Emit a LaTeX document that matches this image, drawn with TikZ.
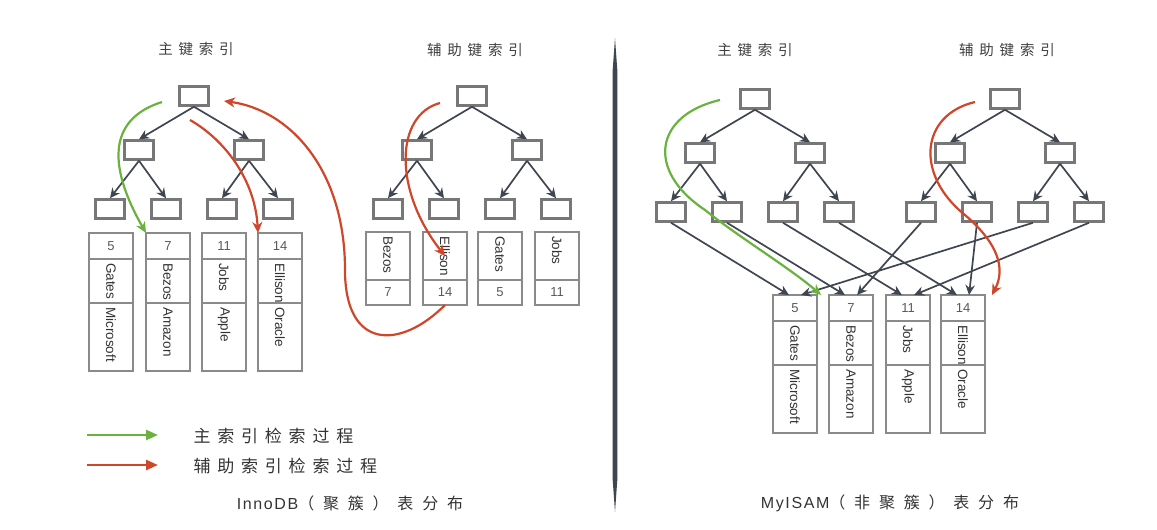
\documentclass[tikz,border=0pt]{standalone}
\usepackage{fontspec}
\setmainfont{Liberation Sans}
\newfontfamily\cjk{Noto Sans CJK SC}[LetterSpace=40]
\newfontfamily\cjkwide{Noto Sans CJK SC}[LetterSpace=55]
\newfontfamily\latincap{Liberation Sans}[LetterSpace=10]
\usetikzlibrary{arrows.meta,positioning}

\definecolor{pgreen}{HTML}{6AB23E}
\definecolor{pred}{HTML}{D0462A}
\definecolor{linkgray}{HTML}{3F4650}
\definecolor{boxgray}{HTML}{777777}
\definecolor{cellgray}{HTML}{8A8A8A}

\begin{document}
\begin{tikzpicture}[x=1pt, y=-1pt,
    keybox/.style={draw=boxgray, line width=2.5pt, fill=white, minimum width=29pt, minimum height=19pt, inner sep=0pt},
    cell/.style={draw=cellgray, line width=1.5pt, outer sep=0pt, minimum width=44pt, inner sep=0pt, text=black!65, font=\fontsize{13}{13}\selectfont},
    vtext/.style={rotate=-90, anchor=west, inner sep=0pt, text=black!80, font=\fontsize{13.5}{14}\selectfont},
    link/.style={draw=linkgray, line width=1.7pt, -{Stealth[length=10pt,width=9.5pt]}},
    search/.style={line width=2.2pt, -{Stealth[length=11pt,width=10pt]}},
    title/.style={text=black!75, font=\cjk\fontsize{14.5}{15}\selectfont},
    legendtext/.style={anchor=west, text=black!80, font=\cjk\fontsize{17}{17}\selectfont},
    caption/.style={text=black!80, font=\cjkwide\fontsize{16}{16}\selectfont}]
    \useasboundingbox (0,0) rectangle (1157,530);

    %% four B+ trees: InnoDB primary/secondary, MyISAM primary/secondary
    \foreach \tn/\cx/\cy in {ip/194/96, is/472/96, mp/755/99, ms/1005/99} {
        \node[keybox] (\tn-0) at (\cx,\cy) {};
        \node[keybox] (\tn-l) at ({\cx-55},{\cy+54}) {};
        \node[keybox] (\tn-r) at ({\cx+55},{\cy+54}) {};
        \foreach \i/\dx in {1/-84, 2/-28, 3/28, 4/84}
            \node[keybox] (\tn-\i) at ({\cx+\dx},{\cy+113}) {};
        \foreach \a/\b in {0/l, 0/r, l/1, l/2, r/3, r/4}
            \draw[link] (\tn-\a.south) -- (\tn-\b.north);
    }

    \node[title] (ip-title) at (196,49) {主键索引};
    \node[title] (is-title) at (475,50) {辅助键索引};
    \node[title] (mp-title) at (755,50) {主键索引};
    \node[title] (ms-title) at (1007,50) {辅助键索引};

    % InnoDB: rows stored in the primary leaves
    \foreach \i/\x/\k/\n/\c in {1/111/5/Gates/Microsoft, 2/168/7/Bezos/Amazon, 3/224/11/Jobs/Apple, 4/280/14/Ellison/Oracle} {
        \node[cell, anchor=north, minimum height=26pt] (p-k\i) at (\x,233) {\k};
        \node[cell, minimum height=44pt, below=0pt of p-k\i] (p-n\i) {};
        \node[cell, minimum height=68pt, below=0pt of p-n\i] (p-c\i) {};
        \node[vtext] (p-nt\i) at ([yshift=-4pt]p-n\i.north) {\n};
        \node[vtext] (p-ct\i) at ([yshift=-4pt]p-c\i.north) {\c};
    }
    \foreach \i/\x/\n/\k in {1/388/Bezos/7, 2/445/Ellison/14, 3/500/Gates/5, 4/557/Jobs/11} {
        \node[cell, anchor=north, minimum height=48pt] (s-n\i) at (\x,232) {};
        \node[cell, minimum height=25pt, below=0pt of s-n\i] (s-k\i) {\k};
        \node[vtext] (s-nt\i) at ([yshift=-4pt]s-n\i.north) {\n};
    }

    % MyISAM: rows apart, both trees point at them
    \foreach \i/\x/\k/\n/\c in {1/795/5/Gates/Microsoft, 2/851/7/Bezos/Amazon, 3/908/11/Jobs/Apple, 4/963/14/Ellison/Oracle} {
        \node[cell, anchor=north, minimum height=26pt] (m-k\i) at (\x,295) {\k};
        \node[cell, minimum height=44pt, below=0pt of m-k\i] (m-n\i) {};
        \node[cell, minimum height=68pt, below=0pt of m-n\i] (m-c\i) {};
        \node[vtext] (m-nt\i) at ([yshift=-4pt]m-n\i.north) {\n};
        \node[vtext] (m-ct\i) at ([yshift=-4pt]m-c\i.north) {\c};
    }
    \foreach \a/\b/\side in {mp-1/m-k1/115, mp-2/m-k2/115, mp-3/m-k3/115, mp-4/m-k4/115, ms-1/m-k2/65, ms-2/m-k4/65, ms-3/m-k1/65, ms-4/m-k3/65}
        \draw[link] (\a.south) -- (\b.\side);

    % search paths
    \coordinate (g1) at (162,102);
    \coordinate (r1) at (190,120);
    \coordinate (r2) at (440,103);
    \coordinate (r3) at (224,101);
    \coordinate (g2) at (720,100);
    \coordinate (r4) at (975,102);
    \draw[search, pgreen] (g1) .. controls (105,120) and (110,170) .. (p-k2.north west);
    \draw[search, pred] (r1) .. controls (225,140) and (255,180) .. (p-k4.north west);
    \draw[search, pred] (r2) .. controls (395,115) and (393,190) .. (s-n2.center);
    \draw[search, pred] (s-k2.south) .. controls (400,350) and (345,350) .. (345,270)
        .. controls (345,170) and (290,110) .. (r3);
    \draw[search, pgreen] (g2) .. controls (655,115) and (645,170) .. (705,210)
        .. controls (740,238) and (790,268) .. ([xshift=4pt]m-k1.north east);
    \draw[search, pred] (r4) .. controls (920,115) and (915,175) .. (965,215)
        .. controls (1000,245) and (1005,270) .. ([xshift=7pt]m-k4.north east);

    % divider
    \fill[linkgray] (615,38) -- (617.3,70) -- (617.3,480) -- (615,512) -- (612.7,480) -- (612.7,70) -- cycle;

    % legend
    \coordinate (lg1) at (87,435);
    \coordinate (lg2) at (158,435);
    \coordinate (lr1) at (87,465);
    \coordinate (lr2) at (158,465);
    \draw[pgreen, line width=2.4pt, -{Triangle[length=12pt,width=10pt]}] (lg1) -- (lg2);
    \draw[pred, line width=2.4pt, -{Triangle[length=12pt,width=10pt]}] (lr1) -- (lr2);
    \node[legendtext] (lg-text) at (190,436) {主索引检索过程};
    \node[legendtext] (lr-text) at (190,466) {辅助索引检索过程};

    \node[caption] (inno-cap) at (350,503) {{\latincap InnoDB}（聚簇）表分布};
    \node[caption] (myisam-cap) at (890,503) {{\latincap MyISAM}（非聚簇）表分布};
\end{tikzpicture}
\end{document}
